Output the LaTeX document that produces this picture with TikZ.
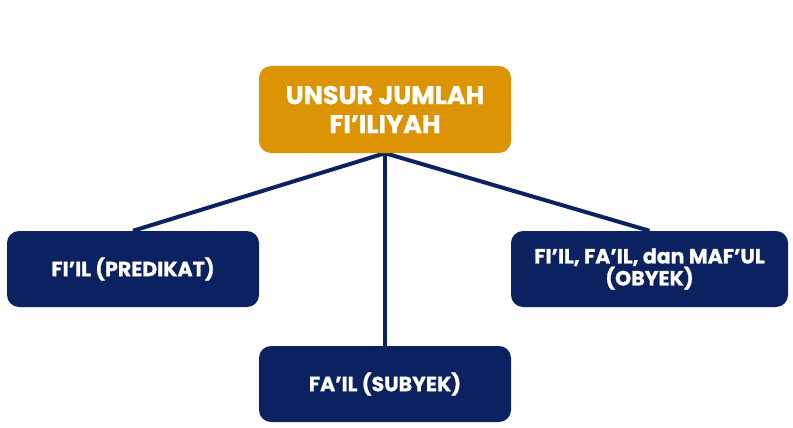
\documentclass[tikz,border=0pt]{standalone}
\usepackage{fontspec}
\setmainfont{Poppins}[BoldFeatures={FakeBold=1}]
\usetikzlibrary{backgrounds}
\definecolor{navy}{HTML}{0C2160}
\definecolor{gold}{HTML}{DD9404}
\begin{document}
\begin{tikzpicture}[x=1pt,y=-1pt,
  box/.style={draw=none, rounded corners=12pt, text=white, align=center, inner sep=0pt},
  conn/.style={draw=navy, line width=4pt}]
\useasboundingbox (0,0) rectangle (793,428);
\node[box, fill=gold, minimum width=252pt, minimum height=87pt, font=\fontsize{25.5}{29}\selectfont\bfseries] (top) at (385,109.5) {UNSUR JUMLAH\\FI’ILIYAH};
\node[box, fill=navy, minimum width=252pt, minimum height=76pt, font=\fontsize{20.5}{22}\selectfont\bfseries] (left) at (133,269) {FI’IL (PREDIKAT)};
\node[box, fill=navy, minimum width=277pt, minimum height=76pt, font=\fontsize{20.5}{22}\selectfont\bfseries] (right) at (649.5,269) {FI’IL, FA’IL, dan MAF’UL\\(OBYEK)};
\node[box, fill=navy, minimum width=252pt, minimum height=76pt, font=\fontsize{20.5}{22}\selectfont\bfseries] (bot) at (385,384) {FA’IL (SUBYEK)};
\begin{pgfonlayer}{background}
\draw[conn] (top.south) -- (left.north);
\draw[conn] (top.south) -- (bot.north);
\draw[conn] (top.south) -- (right.north);
\end{pgfonlayer}
\end{tikzpicture}
\end{document}
